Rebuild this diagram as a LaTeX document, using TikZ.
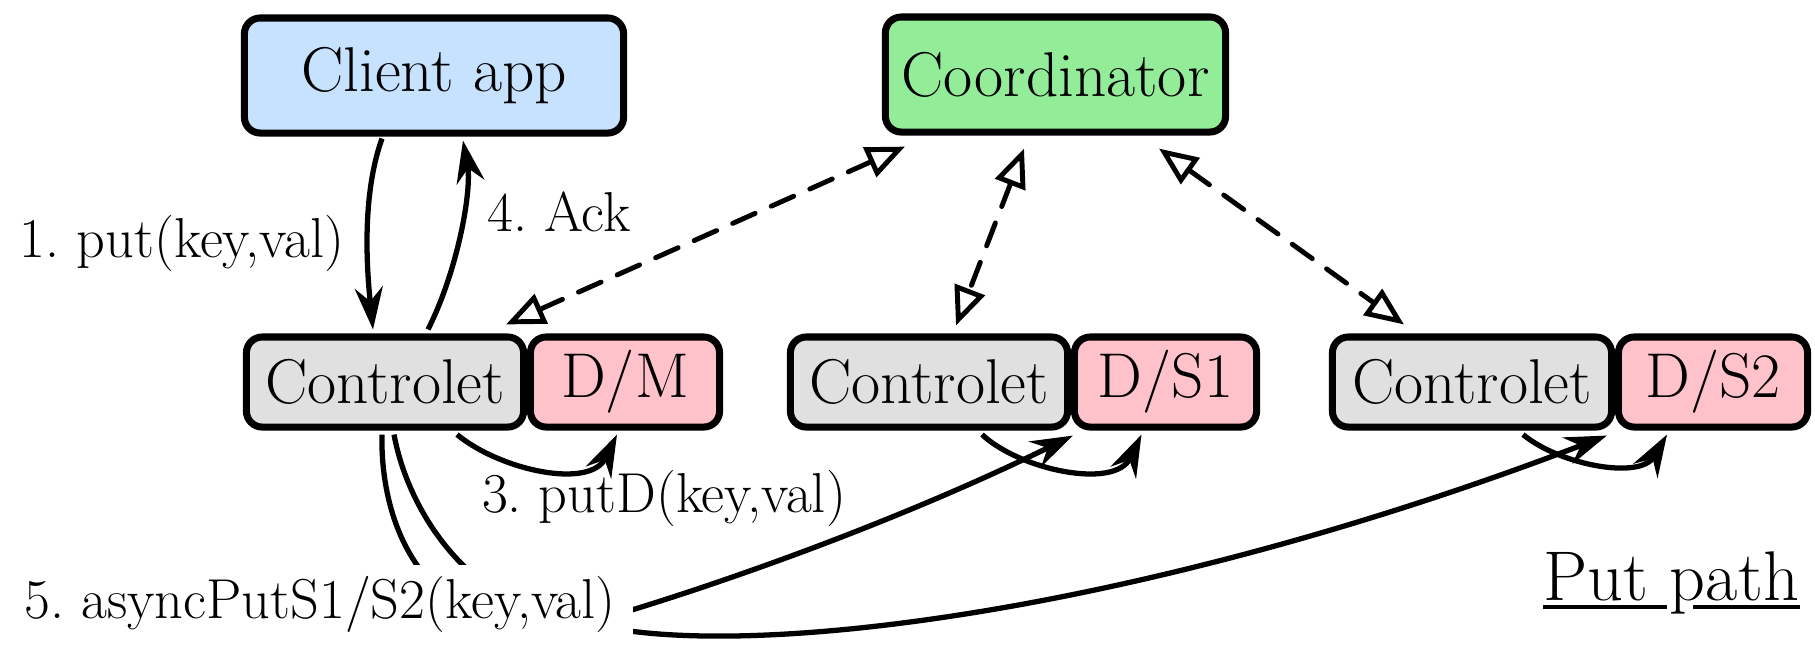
\documentclass[tikz,border=0pt]{standalone}
\usetikzlibrary{arrows.meta,calc}

\definecolor{clientblue}{HTML}{C6E2FF}
\definecolor{coordgreen}{HTML}{92EC98}
\definecolor{ctlgray}{HTML}{E0E0E0}
\definecolor{datapink}{HTML}{FFC2CB}

\tikzset{
  box/.style={draw, line width=2pt, rounded corners=4.5pt, inner sep=0pt,
    font=\fontsize{18pt}{21pt}\selectfont},
  topbox/.style={box, minimum height=1.15cm},
  rowbox/.style={box, minimum height=0.90cm},
  ctl/.style={rowbox, fill=ctlgray, minimum width=2.77cm},
  dat/.style={rowbox, fill=datapink},
  lbl/.style={inner sep=0pt, font=\fontsize{16pt}{19pt}\selectfont\frenchspacing},
  conn/.style={line width=1.5pt, -{Stealth[length=12pt,width=8pt,inset=4pt]}},
  dashlink/.style={line width=1.4pt, dash pattern=on 7pt off 5pt, line cap=round,
    {Triangle[open,length=11pt,width=9pt]}-{Triangle[open,length=11pt,width=9pt]}},
}

\begin{document}
\begin{tikzpicture}[x=0.01cm,y=-0.01cm]
\useasboundingbox (0,0) rectangle (1815,656);

% top row
\node[topbox, fill=clientblue, minimum width=3.79cm] (client) at (434,75.5) {Client app};
\node[topbox, fill=coordgreen, minimum width=3.40cm] (coord) at (1055.5,74.5) {Coordinator};

% controlet / data pairs
\node[ctl] (c1) at (385,382) {Controlet};
\node[dat, minimum width=1.89cm] (dm) at (625,382) {D/M};
\node[ctl] (c2) at (929,382) {Controlet};
\node[dat, minimum width=1.82cm] (ds1) at (1165.5,382) {D/S1};
\node[ctl, minimum width=2.79cm] (c3) at (1472,382) {Controlet};
\node[dat, minimum width=1.89cm] (ds2) at (1713,382) {D/S2};

% asynchronous replication to the secondaries (routed behind the label)
\coordinate (h1) at (570,628);
\coordinate (h2) at (600,626);
\draw[conn] ($(c1.south)+(-3,4)$) .. controls (380,520) and (420,640) .. (h1)
            .. controls (680,598) and (880,530) .. ($(ds1.south west)+(2,5)$);
\draw[conn] ($(c1.south)+(9,4)$) .. controls (410,520) and (480,620) .. (h2)
            .. controls (760,660) and (1150,610) .. ($(ds2.south west)+(-8,5)$);
\node[lbl, fill=white, inner xsep=5pt, inner ysep=3pt] (l5) at (320,604) {5. asyncPutS1/S2(key,val)};

% client <-> controlet
\draw[conn] ($(client.south)+(-52,2)$) .. controls (360,200) and (368,280) .. ($(c1.north)+(-12,-4)$);
\draw[conn] ($(c1.north)+(43,-4)$) .. controls (458,270) and (472,190) .. ($(client.south)+(29,4)$);
\node[lbl] (l1) at (182,243) {1. put(key,val)};
\node[lbl] (l4) at (559,212) {4. Ack};

% coordinator links
\draw[dashlink] ($(coord.south)+(-150.5,11)$) -- ($(c1.north)+(121,-9)$);
\draw[dashlink] ($(coord.south)+(-31.5,13)$) -- ($(c2.north)+(27,-8)$);
\draw[dashlink] ($(coord.south)+(103.5,13)$) -- ($(c3.north)+(-68,-9)$);

% local writes
\node[lbl] (l3) at (664,498) {3. putD(key,val)};
\draw[conn] ($(c1.south)+(72,4)$) .. controls (500,470) and (590,490) .. ($(dm.south)+(-8,4)$);
\draw[conn] ($(c2.south)+(53,4)$) .. controls (1020,470) and (1115,490) .. ($(ds1.south)+(-24,4)$);
\draw[conn] ($(c3.south)+(51,4)$) .. controls (1560,465) and (1640,480) .. ($(ds2.south)+(-46,4)$);

% caption
\node[inner sep=0pt, anchor=base west, font=\fontsize{20pt}{23pt}\selectfont] (cap) at (1543,600) {Put path};
\draw[line width=1.1pt] ($(cap.base west)+(0,7)$) -- ($(cap.base west)+(124,7)$);
\draw[line width=1.1pt] ($(cap.base west)+(150,7)$) -- ($(cap.base east)+(0,7)$);
\end{tikzpicture}
\end{document}
